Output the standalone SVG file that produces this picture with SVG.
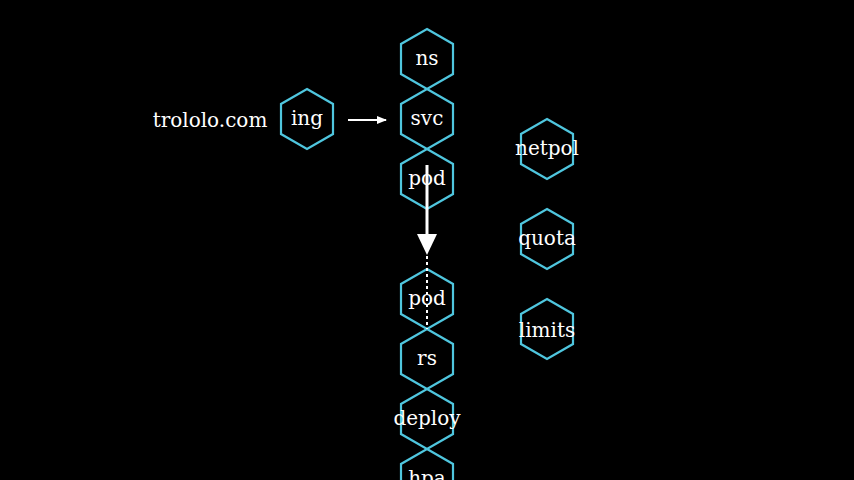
<svg xmlns="http://www.w3.org/2000/svg" width="854" height="480" viewBox="0 0 854 480">
<defs>
<style>
.hex{fill:none;stroke:#4fc6de;stroke-width:2.2}
.t{font-family:"DejaVu Serif",serif;font-size:20px;fill:#fff;text-anchor:middle}
</style>
<polygon id="h" points="0,-30 26,-15 26,15 0,30 -26,15 -26,-15"/>
<marker id="sm" markerWidth="10" markerHeight="8" refX="9" refY="4" orient="auto" markerUnits="userSpaceOnUse"><path d="M0,0 L10,4 L0,8 Z" fill="#fff"/></marker>
</defs>
<rect width="854" height="480" fill="#000"/>
<text class="t" x="210" y="127">trololo.com</text>
<g id="ing"><use href="#h" class="hex" x="307" y="119"/><text class="t" x="307" y="125">ing</text></g>
<g id="ns"><use href="#h" class="hex" x="427" y="59"/><text class="t" x="427" y="65">ns</text></g>
<g id="svc"><use href="#h" class="hex" x="427" y="119"/><text class="t" x="427" y="125">svc</text></g>
<g id="pod1"><use href="#h" class="hex" x="427" y="179"/><text class="t" x="427" y="185">pod</text></g>
<g id="pod2"><use href="#h" class="hex" x="427" y="299"/><text class="t" x="427" y="305">pod</text></g>
<g id="rs"><use href="#h" class="hex" x="427" y="359"/><text class="t" x="427" y="365">rs</text></g>
<g id="deploy"><use href="#h" class="hex" x="427" y="419"/><text class="t" x="427" y="425">deploy</text></g>
<g id="hpa"><use href="#h" class="hex" x="427" y="479"/><text class="t" x="427" y="485">hpa</text></g>
<g id="netpol"><use href="#h" class="hex" x="547" y="149"/><text class="t" x="547" y="155">netpol</text></g>
<g id="quota"><use href="#h" class="hex" x="547" y="239"/><text class="t" x="547" y="245">quota</text></g>
<g id="limits"><use href="#h" class="hex" x="547" y="329"/><text class="t" x="547" y="337">limits</text></g>
<g id="connectors">
<line x1="348" y1="120" x2="386" y2="120" stroke="#fff" stroke-width="2" marker-end="url(#sm)"/>
<line x1="427" y1="165" x2="427" y2="238" stroke="#fff" stroke-width="3"/>
<polygon points="417,234 437,234 427,255" fill="#fff"/>
<line x1="427" y1="256" x2="427" y2="329" stroke="#fff" stroke-width="2" stroke-dasharray="3,3"/>
</g>
</svg>
